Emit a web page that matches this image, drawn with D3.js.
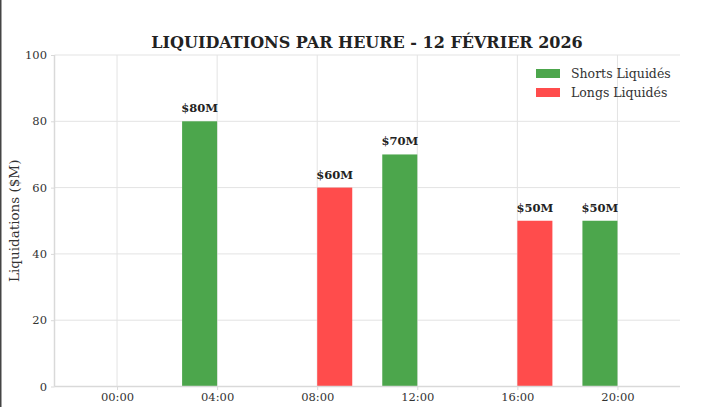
<!DOCTYPE html>
<html><head><meta charset="utf-8">
<script src="https://cdn.jsdelivr.net/npm/d3@7"></script>
<style>
body{margin:0;background:#fff;}
svg{display:block;font-family:"DejaVu Serif",serif;}
</style></head>
<body>
<svg id="c" width="708" height="407"></svg>
<script>
const title = "LIQUIDATIONS PAR HEURE - 12 FÉVRIER 2026";
const yLabel = "Liquidations ($M)";
const xTickHours = [0, 4, 8, 12, 16, 20];
const xTickLabels = ["00:00", "04:00", "08:00", "12:00", "16:00", "20:00"];
const yTicks = [0, 20, 40, 60, 80, 100];
const shortsHours = [4, 12, 20];
const shortsValues = [80, 70, 50];
const longsHours = [8, 16];
const longsValues = [60, 50];
const seriesNames = ["Shorts Liquidés", "Longs Liquidés"];
const barWidth = 1.4;

const svg = d3.select("#c");
const W = 708, H = 407;
const m = {left: 54.5, right: 680, top: 55, bottom: 386.5};
const x = d3.scaleLinear().domain([-2.5, 22.5]).range([m.left, m.right]);
const y = d3.scaleLinear().domain([0, 100]).range([m.bottom, m.top]);

// left dark border
svg.append("rect").attr("x",0).attr("y",0).attr("width",1.5).attr("height",H).attr("fill","#444");

// grid
const g = svg.append("g");
g.selectAll(".gy").data(yTicks).join("line")
  .attr("x1", m.left).attr("x2", m.right).attr("y1", d=>y(d)).attr("y2", d=>y(d))
  .attr("stroke","#e3e3e3").attr("stroke-width",1);
g.selectAll(".gx").data(xTickHours).join("line")
  .attr("x1", d=>x(d)).attr("x2", d=>x(d)).attr("y1", m.top).attr("y2", m.bottom)
  .attr("stroke","#e3e3e3").attr("stroke-width",1);

// bars
const shorts = shortsHours.map((h,i)=>({h, v: shortsValues[i]}));
const longs = longsHours.map((h,i)=>({h, v: longsValues[i]}));
const bw = x(barWidth) - x(0);
svg.append("g").selectAll("rect").data(shorts).join("rect")
  .attr("x", d=>x(d.h - barWidth)).attr("width", bw)
  .attr("y", d=>y(d.v)).attr("height", d=>y(0)-y(d.v))
  .attr("fill","rgb(76,166,76)");
svg.append("g").selectAll("rect").data(longs).join("rect")
  .attr("x", d=>x(d.h)).attr("width", bw)
  .attr("y", d=>y(d.v)).attr("height", d=>y(0)-y(d.v))
  .attr("fill","rgb(255,76,76)");

// value labels
const lbl = svg.append("g").attr("font-size",11.5).attr("font-weight","bold").attr("fill","#222").attr("text-anchor","middle");
shorts.forEach(d=>lbl.append("text").attr("x", x(d.h - barWidth/2)).attr("y", y(d.v)-9).text(`$${d.v}M`));
longs.forEach(d=>lbl.append("text").attr("x", x(d.h + barWidth/2)).attr("y", y(d.v)-9).text(`$${d.v}M`));

// axes
const xAxis = d3.axisBottom(x).tickValues(xTickHours).tickFormat((d,i)=>xTickLabels[i]).tickSize(3.5).tickPadding(3);
const xa = svg.append("g").attr("transform",`translate(0,${m.bottom})`).call(xAxis);
const yAxis = d3.axisLeft(y).tickValues(yTicks).tickSize(3.5).tickPadding(4);
const ya = svg.append("g").attr("transform",`translate(${m.left},0)`).call(yAxis);
[xa, ya].forEach(a=>{
  a.select(".domain").attr("stroke","#d9d9d9").attr("stroke-width",1.5);
  a.selectAll(".tick line").attr("stroke","#d9d9d9");
  a.selectAll("text").attr("font-family","DejaVu Serif").attr("font-size",11.5).attr("fill","#333");
});
xa.select(".domain").attr("d", `M${m.left},0H${m.right}`);
ya.select(".domain").attr("d", `M0,${m.bottom}V${m.top}`);

// y label
svg.append("text").attr("transform",`translate(19,${(m.top+m.bottom)/2}) rotate(-90)`)
  .attr("text-anchor","middle").attr("font-size",13.5).attr("fill","#333").text(yLabel);

// title
svg.append("text").attr("x", 367).attr("y", 48).attr("text-anchor","middle")
  .attr("font-size",16).attr("font-weight","bold").attr("fill","#222").text(title);

// legend
const lg = svg.append("g").attr("transform","translate(536,73)");
[["rgb(76,166,76)", seriesNames[0]], ["rgb(255,76,76)", seriesNames[1]]].forEach((d,i)=>{
  lg.append("rect").attr("x",0).attr("y",i*19-4).attr("width",24).attr("height",9).attr("fill",d[0]);
  lg.append("text").attr("x",35).attr("y",i*19+4.5).attr("font-size",12.5).attr("fill","#333").text(d[1]);
});
</script>
</body></html>
